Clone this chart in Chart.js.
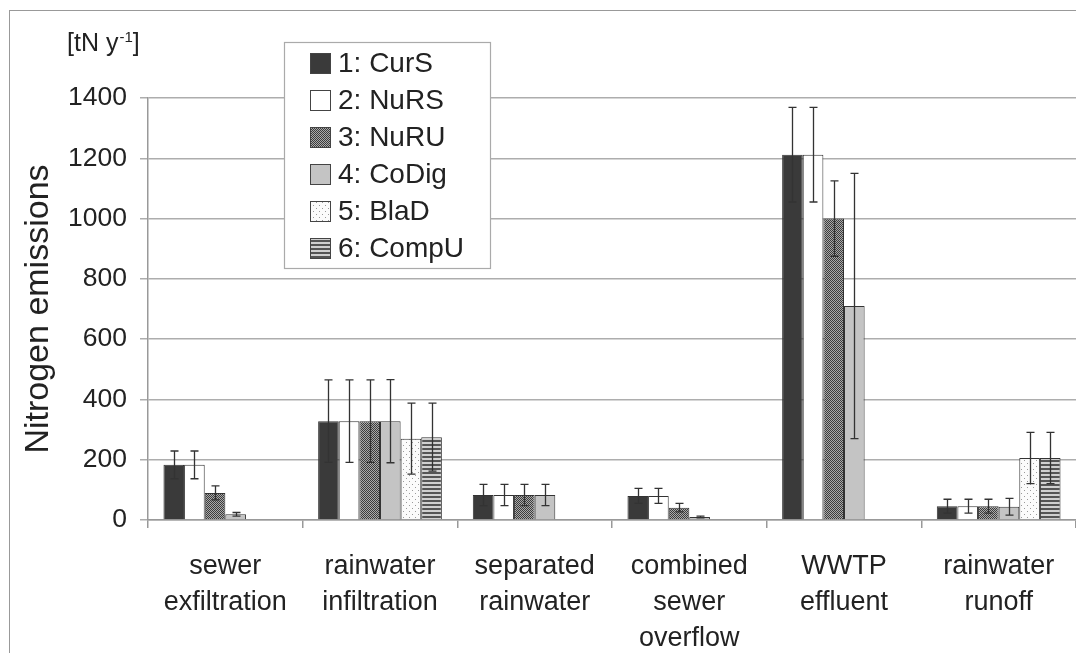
<!DOCTYPE html>
<html>
<head>
<meta charset="utf-8">
<script src="https://cdn.jsdelivr.net/npm/chart.js@4/dist/chart.umd.min.js"></script>
<style>
  body { margin: 0; background: #fff; overflow: hidden; }
</style>
</head>
<body>
<canvas id="nChart" width="1076" height="678"></canvas>
<script>
// categories and scenario values, tN per year
const categories = [
    ['sewer', 'exfiltration'],
    ['rainwater', 'infiltration'],
    ['separated', 'rainwater'],
    ['combined', 'sewer', 'overflow'],
    ['WWTP', 'effluent'],
    ['rainwater', 'runoff']
];
const scenarioNames = ['1: CurS', '2: NuRS', '3: NuRU', '4: CoDig', '5: BlaD', '6: CompU'];

const curS = [183, 328, 83, 80, 1212, 46];
const curSErr = [46, 137, 35, 25, 157, 23];
const nuRS = [183, 328, 83, 80, 1212, 46];
const nuRSErr = [46, 137, 35, 25, 157, 23];
const nuRU = [90, 328, 83, 41, 1000, 46];
const nuRUErr = [23, 137, 35, 14, 125, 23];
const coDig = [19, 328, 83, 10, 710, 44];
const coDigErr = [6, 138, 35, 3, 440, 28];
const blaD = [null, 270, null, null, null, 206];
const blaDErr = [null, 118, null, null, null, 85];
const compU = [null, 275, null, null, null, 206];
const compUErr = [null, 113, null, null, null, 85];

const yTicks = [0, 200, 400, 600, 800, 1000, 1200, 1400];

const FONT = '"Liberation Sans", Arial, sans-serif';

// fill patterns for the hatched bars
function makePattern(size, draw) {
    const c = document.createElement('canvas');
    c.width = size;
    c.height = size;
    draw(c.getContext('2d'), size);
    return c.getContext('2d').createPattern(c, 'repeat');
}

const hatchPattern = makePattern(4, (g, s) => {
    g.fillStyle = '#aaaaaa';
    g.fillRect(0, 0, s, s);
    g.fillStyle = '#3c3c3c';
    for (let i = 0; i < s; i++) {
        g.fillRect(i, i, 1, 1);
        g.fillRect((i + 2) % s, i, 1, 1);
    }
});
const dotPattern = makePattern(6, (g, s) => {
    g.fillStyle = '#fbfbfb';
    g.fillRect(0, 0, s, s);
    g.fillStyle = '#9a9a9a';
    g.fillRect(1, 1, 1, 1);
    g.fillRect(4, 4, 1, 1);
});
const stripePattern = makePattern(4, (g, s) => {
    g.fillStyle = '#d0d0d0';
    g.fillRect(0, 0, s, s);
    g.fillStyle = '#555';
    g.fillRect(0, 0, s, 2);
});

const fills = ['#3a3a3a', '#ffffff', hatchPattern, '#c4c4c4', dotPattern, stripePattern];
const values = [curS, nuRS, nuRU, coDig, blaD, compU];
const errors = [curSErr, nuRSErr, nuRUErr, coDigErr, blaDErr, compUErr];

const errorBars = {
    id: 'errorBars',
    afterDatasetsDraw(chart) {
        const ctx = chart.ctx;
        const y = chart.scales.y;
        ctx.save();
        ctx.strokeStyle = '#333';
        ctx.lineWidth = 1.3;
        chart.data.datasets.forEach((ds, di) => {
            const meta = chart.getDatasetMeta(di);
            meta.data.forEach((bar, i) => {
                const v = ds.data[i];
                const e = errors[di][i];
                if (v == null || e == null) return;
                const top = y.getPixelForValue(v + e);
                const bot = y.getPixelForValue(v - e);
                const x = Math.round(bar.x) + 0.5;
                ctx.beginPath();
                ctx.moveTo(x, top);
                ctx.lineTo(x, bot);
                ctx.moveTo(x - 4, top);
                ctx.lineTo(x + 4, top);
                ctx.moveTo(x - 4, bot);
                ctx.lineTo(x + 4, bot);
                ctx.stroke();
            });
        });
        ctx.restore();
    }
};

const frameAndLegend = {
    id: 'frameAndLegend',
    beforeDraw(chart) {
        const ctx = chart.ctx;
        ctx.save();
        ctx.strokeStyle = '#999';
        ctx.lineWidth = 1;
        ctx.strokeRect(9.5, 10.5, 1200, 800);
        ctx.restore();
    },
    afterDraw(chart) {
        const ctx = chart.ctx;
        ctx.save();
        // unit label
        ctx.fillStyle = '#222';
        ctx.font = '25px ' + FONT;
        ctx.textBaseline = 'alphabetic';
        ctx.textAlign = 'left';
        ctx.fillText('[tN y', 67, 51);
        let w = ctx.measureText('[tN y').width;
        ctx.font = '15px ' + FONT;
        ctx.fillText('-1', 68 + w, 42);
        let w2 = ctx.measureText('-1').width;
        ctx.font = '25px ' + FONT;
        ctx.fillText(']', 68 + w + w2, 51);

        // legend box
        ctx.fillStyle = '#fff';
        ctx.fillRect(284, 42, 206, 226);
        ctx.strokeStyle = '#aaa';
        ctx.lineWidth = 1.2;
        ctx.strokeRect(284.5, 42.5, 206, 226);
        ctx.font = '28px ' + FONT;
        ctx.textBaseline = 'middle';
        scenarioNames.forEach((name, i) => {
            const cy = 63 + i * 37;
            ctx.fillStyle = fills[i];
            ctx.fillRect(310, cy - 10, 20, 20);
            ctx.strokeStyle = '#444';
            ctx.lineWidth = 1;
            ctx.strokeRect(310.5, cy - 9.5, 20, 20);
            ctx.fillStyle = '#222';
            ctx.fillText(name, 338, cy + 1);
        });
        ctx.restore();
    }
};

new Chart(document.getElementById('nChart'), {
    type: 'bar',
    data: {
        labels: categories,
        datasets: scenarioNames.map((name, i) => ({
            label: name,
            data: values[i],
            backgroundColor: fills[i],
            borderColor: '#333',
            borderWidth: 1,
            categoryPercentage: 0.8,
            barPercentage: 1
        }))
    },
    options: {
        responsive: false,
        animation: false,
        layout: { padding: { left: 10, top: 98, right: 0, bottom: 0 } },
        plugins: {
            legend: { display: false },
            tooltip: { enabled: false }
        },
        scales: {
            x: {
                grid: { offset: true, drawOnChartArea: false, tickLength: 8, color: '#999', lineWidth: 1.5 },
                border: { color: '#999', width: 1.5 },
                ticks: { color: '#222', font: { family: FONT, size: 27, lineHeight: 1.333 }, padding: 21, maxRotation: 0, autoSkip: false }
            },
            y: {
                min: 0,
                max: 1400,
                afterBuildTicks: axis => { axis.ticks = yTicks.map(v => ({ value: v })); },
                afterFit: axis => { axis.width = 138; },
                grid: { color: '#adadad', lineWidth: 1.5, tickLength: 8 },
                border: { color: '#999', width: 1.5 },
                ticks: { color: '#222', font: { family: FONT, size: 26.5 }, padding: 13, callback: v => String(v) },
                title: { display: true, text: 'Nitrogen emissions', color: '#222', font: { family: FONT, size: 34, lineHeight: 1.2 }, padding: { top: 8, bottom: 0 } }
            }
        }
    },
    plugins: [errorBars, frameAndLegend]
});
</script>
</body>
</html>
